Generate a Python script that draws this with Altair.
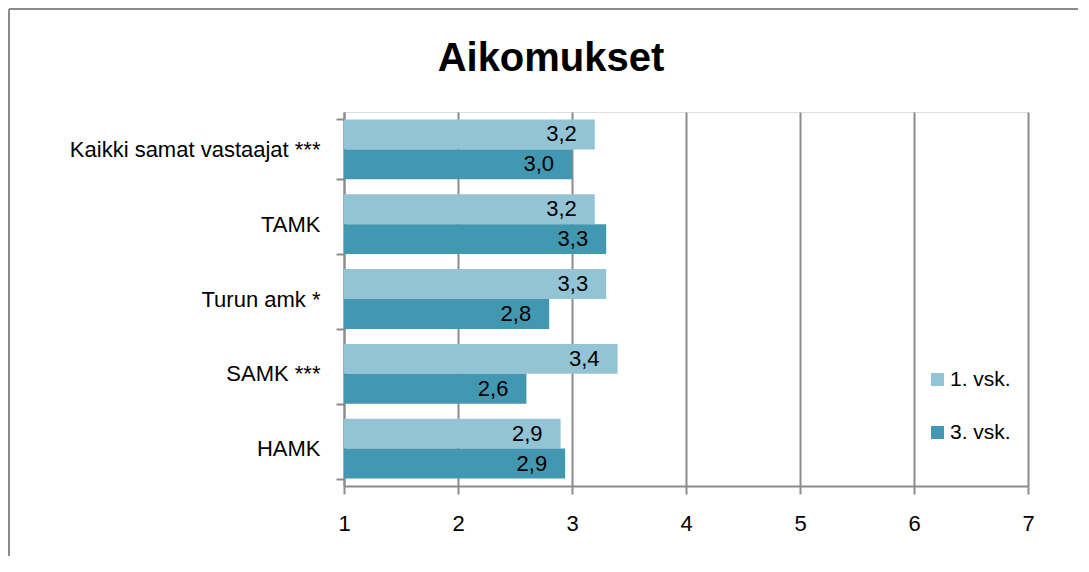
import altair as alt
import pandas as pd

categories = ["Kaikki samat vastaajat ***", "TAMK", "Turun amk *", "SAMK ***", "HAMK"]
series = ["1. vsk.", "3. vsk."]
vsk1 = [3.2, 3.2, 3.3, 3.4, 2.9]
vsk3 = [3.0, 3.3, 2.8, 2.6, 2.94]
colors = ["#93C4D5", "#4398B1"]

rows = []
for i, c in enumerate(categories):
    for s, vals in zip(series, [vsk1, vsk3]):
        v = vals[i]
        rows.append({"cat": c, "series": s, "value": v,
                     "label": f"{v:.1f}".replace(".", ",")})
df = pd.DataFrame(rows)

FONT = "Liberation Sans"
GRID = "#8c8c8c"

y_enc = alt.Y("cat:N", sort=categories,
              scale=alt.Scale(paddingInner=0.2, paddingOuter=0.1),
              axis=alt.Axis(title=None, labelFontSize=22, labelFont=FONT, labelColor="#000",
                            labelPadding=16, labelLimit=500, tickSize=8, tickColor=GRID,
                            tickWidth=2, tickBand="extent", domainColor=GRID, domainWidth=2,
                            grid=False))
x_scale = alt.Scale(domain=[1, 7], nice=False, zero=False)

bars = alt.Chart(df).mark_bar().encode(
    y=y_enc,
    yOffset=alt.YOffset("series:N", sort=series),
    x=alt.X("value:Q", scale=x_scale,
            axis=alt.Axis(title=None, values=[1, 2, 3, 4, 5, 6, 7], format="d",
                          labelFontSize=22, labelFont=FONT, labelColor="#000",
                          labelFlush=False, labelPadding=19, tickSize=8, tickColor=GRID,
                          tickWidth=2, domainColor=GRID, domainWidth=2,
                          grid=True, gridColor=GRID, gridWidth=2)),
    x2=alt.datum(1),
    color=alt.Color("series:N", sort=series,
                    scale=alt.Scale(domain=series, range=colors),
                    legend=alt.Legend(title=None, orient="none", legendX=583, legendY=257,
                                      symbolType="square", symbolSize=170,
                                      symbolStrokeWidth=0, labelFontSize=21, labelFont=FONT,
                                      labelColor="#000", rowPadding=31, labelOffset=2)),
)

texts = alt.Chart(df).mark_text(align="right", baseline="middle", dx=-18, fontSize=22,
                                font=FONT, color="#000").encode(
    y=alt.Y("cat:N", sort=categories),
    yOffset=alt.YOffset("series:N", sort=series),
    x=alt.X("value:Q", scale=x_scale),
    text="label:N",
)

frame_top = alt.Chart(df).mark_rule(color=GRID, strokeWidth=2).encode(
    x=alt.value(-335), x2=alt.value(760), y=alt.value(-103))
frame_left = alt.Chart(df).mark_rule(color=GRID, strokeWidth=2).encode(
    x=alt.value(-335), y=alt.value(-103), y2=alt.value(444))

chart = alt.layer(bars, texts, frame_top, frame_left).properties(
    width=684, height=374,
    title=alt.Title("Aikomukset", fontSize=40, font=FONT, fontWeight="bold", color="#000",
                    anchor="middle", dx=-135, offset=0, dy=71),
    autosize=alt.AutoSizeParams(type="none"),
    padding={"left": 336, "top": 104, "right": 50, "bottom": 70},
).configure_view(stroke=None).configure(background="white")

chart.save("out.html", embed_options={"renderer": "svg", "actions": False})
